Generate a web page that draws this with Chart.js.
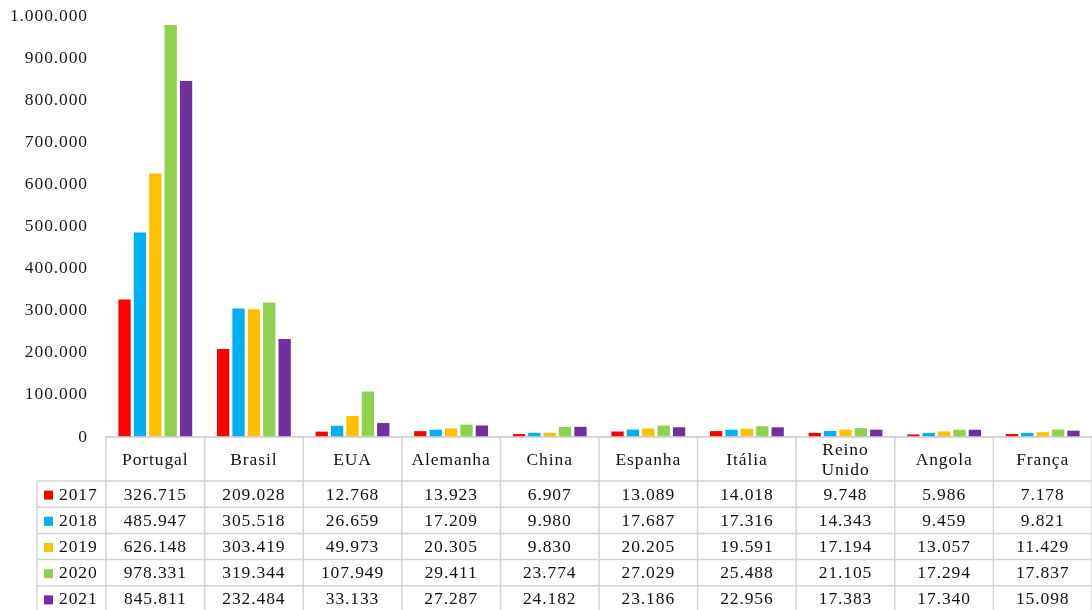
<!DOCTYPE html>
<html>
<head>
<meta charset="utf-8">
<script src="https://cdn.jsdelivr.net/npm/chart.js@4/dist/chart.umd.min.js"></script>
<style>
html,body{margin:0;padding:0;background:#fff;}
#wrap{position:relative;width:1092px;height:610px;}
</style>
</head>
<body>
<div id="wrap"><canvas id="c" width="1092" height="610"></canvas></div>
<script>
const categories = ['Portugal','Brasil','EUA','Alemanha','China','Espanha','Itália',['Reino','Unido'],'Angola','França'];
const years = ['2017','2018','2019','2020','2021'];
const v2017 = [326715,209028,12768,13923,6907,13089,14018,9748,5986,7178];
const v2018 = [485947,305518,26659,17209,9980,17687,17316,14343,9459,9821];
const v2019 = [626148,303419,49973,20305,9830,20205,19591,17194,13057,11429];
const v2020 = [978331,319344,107949,29411,23774,27029,25488,21105,17294,17837];
const v2021 = [845811,232484,33133,27287,24182,23186,22956,17383,17340,15098];
const colors = ['#FF0000','#00B0F0','#FFC000','#92D050','#7030A0'];
const seriesValues = [v2017,v2018,v2019,v2020,v2021];

function fmt(n){ return String(n).replace(/\B(?=(\d{3})+(?!\d))/g,'.'); }

const FONT = 'Liberation Serif, "Times New Roman", serif';
const TEXT = '#111111';
const LINE = '#d4d4d4';

const tablePlugin = {
  id: 'dataTable',
  beforeDraw(chart){ chart.ctx.letterSpacing = '0.9px'; },
  afterDraw(chart){
    const ctx = chart.ctx;
    const x = chart.scales.x;
    const ca = chart.chartArea;
    const half = (x.getPixelForValue(1) - x.getPixelForValue(0)) / 2;
    const top = ca.bottom;
    const headerBottom = top + 44;
    const rowH = 26.2;
    const legendLeft = 37;
    const bottom = chart.height + 2;
    ctx.save();
    ctx.letterSpacing = '0.9px';
    ctx.strokeStyle = LINE;
    ctx.lineWidth = 1.5;
    ctx.beginPath();
    ctx.moveTo(x.getPixelForValue(0) - half, top); ctx.lineTo(chart.width, top);
    for (let i = 0; i <= categories.length; i++){
      const px = x.getPixelForValue(0) - half + i * 2 * half;
      ctx.moveTo(px, top); ctx.lineTo(px, bottom);
    }
    ctx.moveTo(legendLeft, headerBottom); ctx.lineTo(legendLeft, bottom);
    for (let r = 0; r < years.length; r++){
      const py = headerBottom + r * rowH;
      ctx.moveTo(legendLeft, py); ctx.lineTo(chart.width, py);
    }
    ctx.stroke();

    ctx.fillStyle = TEXT;
    ctx.font = '17.5px ' + FONT;
    ctx.textAlign = 'center';
    ctx.textBaseline = 'middle';
    categories.forEach((c, i) => {
      const cx = x.getPixelForValue(i);
      const midY = (top + headerBottom) / 2 + 1;
      if (Array.isArray(c)){
        ctx.fillText(c[0], cx, midY - 10);
        ctx.fillText(c[1], cx, midY + 10);
      } else {
        ctx.fillText(c, cx, midY);
      }
    });
    years.forEach((y, r) => {
      const cy = headerBottom + r * rowH + rowH / 2 + 1;
      ctx.fillStyle = colors[r];
      ctx.fillRect(44, cy - 4.5, 9, 9);
      ctx.fillStyle = TEXT;
      ctx.textAlign = 'left';
      ctx.fillText(y, 59, cy);
      ctx.textAlign = 'center';
      seriesValues[r].forEach((val, i) => {
        ctx.fillText(fmt(val), x.getPixelForValue(i), cy);
      });
    });
    ctx.restore();
  }
};

new Chart(document.getElementById('c'), {
  type: 'bar',
  data: {
    labels: categories,
    datasets: years.map((y, k) => ({
      label: y,
      data: seriesValues[k],
      backgroundColor: colors[k],
      borderWidth: 0,
      barPercentage: 0.8,
      categoryPercentage: 0.78
    }))
  },
  options: {
    responsive: false,
    animation: false,
    layout: { padding: { top: 16, bottom: 173, left: 0, right: 0 } },
    plugins: { legend: { display: false }, tooltip: { enabled: false } },
    scales: {
      x: {
        grid: { display: false },
        border: { display: true, color: LINE, width: 1.5 },
        ticks: { display: false },
        afterFit(s){ s.height = 0; s.paddingLeft = 0; s.paddingRight = 0; }
      },
      y: {
        min: 0, max: 1000000,
        grid: { display: false },
        border: { display: false },
        ticks: {
          stepSize: 100000,
          padding: 10,
          color: '#1a1a1a',
          font: { family: FONT, size: 17.5 },
          callback: v => fmt(v)
        },
        afterFit(s){ s.width = 106; s.paddingTop = 0; s.paddingBottom = 0; }
      }
    }
  },
  plugins: [tablePlugin]
});
</script>
</body>
</html>
